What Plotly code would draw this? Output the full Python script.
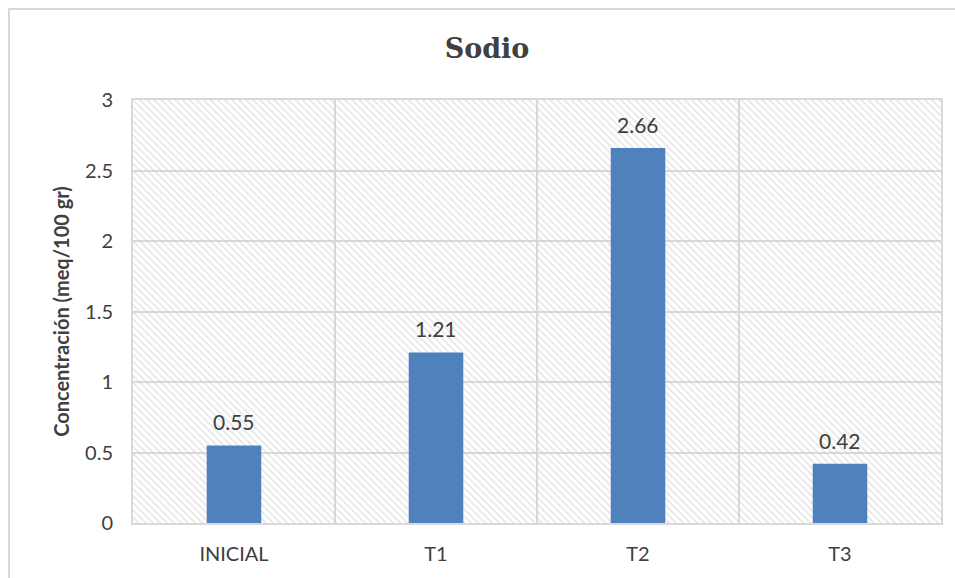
import plotly.graph_objects as go

categories = ["INICIAL", "T1", "T2", "T3"]
sodio = [0.55, 1.21, 2.66, 0.42]
y_ticks = [0, 0.5, 1, 1.5, 2, 2.5, 3]
y_tick_text = ["0", "0.5", "1", "1.5", "2", "2.5", "3"]

W, H = 955, 578
ML, MR, MT, MB = 133, 14, 100, 55
pw, ph = W - ML - MR, H - MT - MB

xpos = list(range(len(categories)))
x_lo, x_hi = -0.5, len(categories) - 0.5
y_lo, y_hi = 0, 3

LABEL_FONT = "Lato, Open Sans, sans-serif"
TEXT_COLOR = "#404040"
GRID = "#d9d9d9"

fig = go.Figure()

# hatched plot-area background, drawn as one full-width bar under the data
fig.add_trace(go.Bar(
    x=[(x_lo + x_hi) / 2], y=[y_hi], width=[x_hi - x_lo],
    marker=dict(color="rgba(0,0,0,0)", line=dict(width=0),
                pattern=dict(shape="\\", fgcolor="#cfcfcf", bgcolor="rgba(255,255,255,0)",
                             size=5, solidity=0.35)),
    hoverinfo="skip", showlegend=False,
))

fig.add_trace(go.Bar(
    x=xpos, y=sodio, width=0.27,
    marker=dict(color="#4F81BD", line=dict(width=0)),
    showlegend=False,
))

# value labels above each bar
for xi, v in zip(xpos, sodio):
    fig.add_annotation(
        x=xi, y=v, text=f"{v:.2f}", showarrow=False,
        yanchor="bottom", yshift=9,
        font=dict(family=LABEL_FONT, size=21, color=TEXT_COLOR),
    )

fig.update_layout(
    width=W, height=H,
    margin=dict(l=ML, r=MR, t=MT, b=MB),
    paper_bgcolor="white", plot_bgcolor="white",
    barmode="overlay",
    title=dict(text="<b>Sodio</b>", x=487 / W, xanchor="center",
               y=1 - 49 / H, yanchor="middle",
               font=dict(family="DejaVu Serif, serif", size=27, color=TEXT_COLOR)),
    xaxis=dict(
        range=[x_lo, x_hi], tickvals=xpos, ticktext=categories,
        showgrid=False, zeroline=False,
        showline=True, mirror=True, linecolor=GRID, linewidth=2,
        ticks="", ticklabelstandoff=12,
        tickfont=dict(family=LABEL_FONT, size=20, color=TEXT_COLOR),
        minor=dict(tickvals=[0.5, 1.5, 2.5], showgrid=True, gridcolor=GRID,
                   gridwidth=2, ticks=""),
    ),
    yaxis=dict(
        range=[y_lo, y_hi], tickvals=y_ticks, ticktext=y_tick_text,
        showgrid=True, gridcolor=GRID, gridwidth=2, zeroline=False,
        showline=True, mirror=True, linecolor=GRID, linewidth=2,
        ticks="", ticklabelstandoff=14,
        tickfont=dict(family=LABEL_FONT, size=20, color=TEXT_COLOR),
        title=dict(text="<b>Concentración (meq/100 gr)</b>", standoff=10,
                   font=dict(family=LABEL_FONT, size=20, color=TEXT_COLOR)),
    ),
)

# outer chart frame
fig.add_shape(
    type="rect", xref="paper", yref="paper",
    x0=(9 - ML) / pw, x1=(W + 5 - ML) / pw,
    y0=-(H + 5 - (MT + ph)) / ph, y1=(MT + ph - 9) / ph,
    line=dict(color=GRID, width=2), fillcolor="rgba(0,0,0,0)", layer="below",
)

fig.write_html("out.html")
